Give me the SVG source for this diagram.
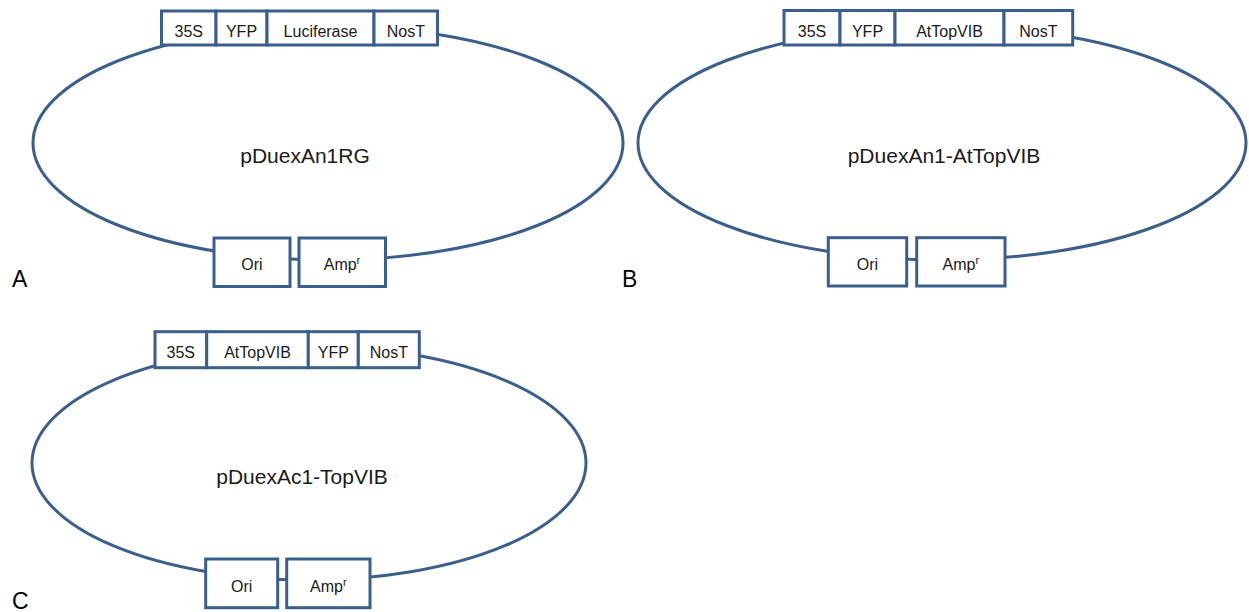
<svg xmlns="http://www.w3.org/2000/svg" width="1249" height="612" viewBox="0 0 1249 612">
  <style>
    .bb { fill: none; stroke: #3B5F8D; stroke-width: 3; }
    .box { fill: #ffffff; stroke: #3B5F8D; stroke-width: 3; }
    .lbl { font-family: "Liberation Sans", Arial, sans-serif; font-size: 16px; fill: #1a1a1a; text-anchor: middle; }
    .name { font-family: "Liberation Sans", Arial, sans-serif; font-size: 21px; fill: #1a1a1a; text-anchor: middle; }
    .panel { font-family: "Liberation Sans", Arial, sans-serif; font-size: 23px; fill: #000000; }
    .sup { font-size: 11px; }
  </style>
  <rect width="1249" height="612" fill="#ffffff"/>

  <!-- plasmid backbones -->
  <g id="backbones">
    <ellipse class="bb" cx="328" cy="143" rx="295" ry="117"/>
    <ellipse class="bb" cx="942" cy="143" rx="304" ry="117"/>
    <ellipse class="bb" cx="309" cy="463" rx="277" ry="117"/>
  </g>

  <!-- Plasmid A: pDuexAn1RG -->
  <g id="plasmid-a">
    <text class="name" x="305" y="163">pDuexAn1RG</text>
    <g id="a-35s"><rect class="box" x="161.5" y="11" width="54.5" height="34"/><text class="lbl" x="188.8" y="36.5">35S</text></g>
    <g id="a-yfp"><rect class="box" x="216" y="11" width="51" height="34"/><text class="lbl" x="241.5" y="36.5">YFP</text></g>
    <g id="a-luciferase"><rect class="box" x="267" y="11" width="107" height="34"/><text class="lbl" x="320.5" y="36.5">Luciferase</text></g>
    <g id="a-nost"><rect class="box" x="374" y="11" width="63.5" height="34"/><text class="lbl" x="405.8" y="36.5">NosT</text></g>
    <g id="a-ori"><rect class="box" x="214" y="238" width="76" height="48.5"/><text class="lbl" x="252" y="270">Ori</text></g>
    <g id="a-amp"><rect class="box" x="299" y="238" width="86.5" height="48.5"/><text class="lbl" x="342" y="270">Amp<tspan class="sup" dy="-6">r</tspan></text></g>
  </g>
  <text class="panel" x="12" y="287">A</text>

  <!-- Plasmid B: pDuexAn1-AtTopVIB -->
  <g id="plasmid-b">
    <text class="name" x="944" y="163">pDuexAn1-AtTopVIB</text>
    <g id="b-35s"><rect class="box" x="784" y="10.5" width="56" height="34.5"/><text class="lbl" x="812" y="36.5">35S</text></g>
    <g id="b-yfp"><rect class="box" x="840" y="10.5" width="55" height="34.5"/><text class="lbl" x="867.5" y="36.5">YFP</text></g>
    <g id="b-attopvib"><rect class="box" x="895" y="10.5" width="109" height="34.5"/><text class="lbl" x="949.5" y="36.5">AtTopVIB</text></g>
    <g id="b-nost"><rect class="box" x="1004" y="10.5" width="68.7" height="34.5"/><text class="lbl" x="1038.4" y="36.5">NosT</text></g>
    <g id="b-ori"><rect class="box" x="828.3" y="237.7" width="78.4" height="48.3"/><text class="lbl" x="867.5" y="270">Ori</text></g>
    <g id="b-amp"><rect class="box" x="916.7" y="237.7" width="88.3" height="48.3"/><text class="lbl" x="960.8" y="270">Amp<tspan class="sup" dy="-6">r</tspan></text></g>
  </g>
  <text class="panel" x="622" y="287">B</text>

  <!-- Plasmid C: pDuexAc1-TopVIB -->
  <g id="plasmid-c">
    <text class="name" x="302" y="484">pDuexAc1-TopVIB</text>
    <g id="c-35s"><rect class="box" x="155" y="331.7" width="51.7" height="36"/><text class="lbl" x="180.8" y="358">35S</text></g>
    <g id="c-attopvib"><rect class="box" x="206.7" y="331.7" width="101.6" height="36"/><text class="lbl" x="257.5" y="358">AtTopVIB</text></g>
    <g id="c-yfp"><rect class="box" x="308.3" y="331.7" width="50" height="36"/><text class="lbl" x="333.3" y="358">YFP</text></g>
    <g id="c-nost"><rect class="box" x="358.3" y="331.7" width="61" height="36"/><text class="lbl" x="388.8" y="358">NosT</text></g>
    <g id="c-ori"><rect class="box" x="205.7" y="559" width="72" height="48.7"/><text class="lbl" x="241.7" y="591.5">Ori</text></g>
    <g id="c-amp"><rect class="box" x="286.7" y="559" width="83.3" height="48.7"/><text class="lbl" x="328.3" y="591.5">Amp<tspan class="sup" dy="-6">r</tspan></text></g>
  </g>
  <text class="panel" x="12" y="609">C</text>
</svg>
